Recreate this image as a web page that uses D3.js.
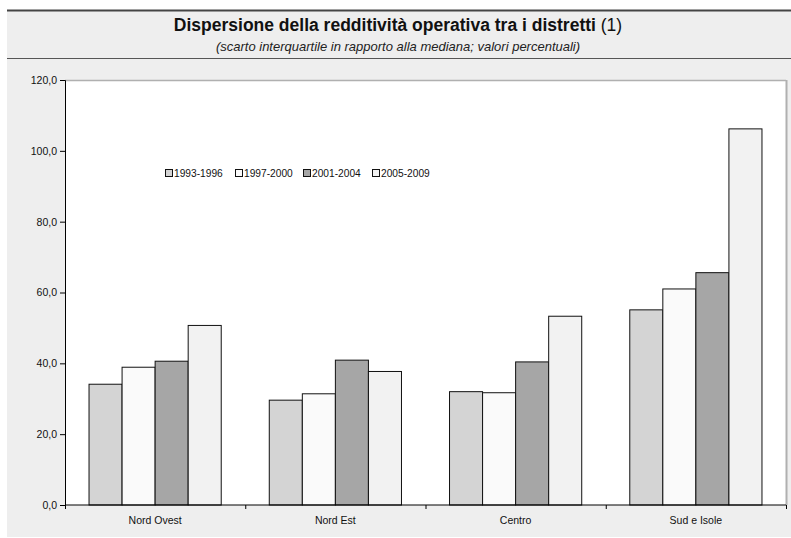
<!DOCTYPE html>
<html><head><meta charset="utf-8">
<script src="https://cdn.jsdelivr.net/npm/d3@7"></script>
<style>body{margin:0;background:#fff}svg{display:block}text{font-family:Arial,"Liberation Sans",sans-serif}</style>
</head><body>
<script>
const categories = ["Nord Ovest", "Nord Est", "Centro", "Sud e Isole"];
const seriesNames = ["1993-1996", "1997-2000", "2001-2004", "2005-2009"];
const s1993 = [34.1, 29.6, 32.0, 55.1];
const s1997 = [38.9, 31.4, 31.7, 61.0];
const s2001 = [40.6, 40.9, 40.4, 65.6];
const s2005 = [50.7, 37.7, 53.3, 106.2];
const seriesColors = ["#d4d4d4", "#fafafa", "#a6a6a6", "#f2f2f2"];
const yTicks = [0, 20, 40, 60, 80, 100, 120];

const series = [s1993, s1997, s2001, s2005];
const W = 791, H = 538;
const svg = d3.select("body").append("svg").attr("width", W).attr("height", H);

// outer background
svg.append("rect").attr("x", 7).attr("y", 10).attr("width", W - 7).attr("height", 527).attr("fill", "#eeeeee");
svg.append("line").attr("x1", 7).attr("x2", W).attr("y1", 10.5).attr("y2", 10.5).attr("stroke", "#444").attr("stroke-width", 2);
svg.append("line").attr("x1", 7).attr("x2", W).attr("y1", 58.5).attr("y2", 58.5).attr("stroke", "#555").attr("stroke-width", 1.2);

// title
const t = svg.append("text").attr("x", 398).attr("y", 31).attr("text-anchor", "middle").attr("font-size", 17.5).attr("fill", "#111");
t.append("tspan").attr("font-weight", "bold").text("Dispersione della redditività operativa tra i distretti");
t.append("tspan").text(" (1)");
svg.append("text").attr("x", 398).attr("y", 51).attr("text-anchor", "middle").attr("font-size", 13).attr("font-style", "italic").attr("fill", "#222")
  .text("(scarto interquartile in rapporto alla mediana; valori percentuali)");

const m = {left: 65, right: 786, top: 80, bottom: 505};
const x0 = d3.scaleBand().domain(categories).range([m.left, m.right]).paddingInner(0).paddingOuter(0);
const x1 = d3.scaleBand().domain(seriesNames).range([0, x0.bandwidth()]).paddingOuter(0.727).paddingInner(0);
const y = d3.scaleLinear().domain([0, 120]).range([m.bottom, m.top]);

// plot area
svg.append("rect").attr("x", m.left).attr("y", m.top).attr("width", m.right - m.left).attr("height", m.bottom - m.top).attr("fill", "#fff");
svg.append("line").attr("x1", m.left).attr("x2", m.right).attr("y1", m.top + 0.5).attr("y2", m.top + 0.5).attr("stroke", "#b0b0b0").attr("stroke-width", 1.5);
svg.append("line").attr("x1", m.right + 0.5).attr("x2", m.right + 0.5).attr("y1", m.top).attr("y2", m.bottom).attr("stroke", "#b0b0b0").attr("stroke-width", 2);

// bars
const g = svg.append("g");
categories.forEach((c, i) => {
  series.forEach((s, j) => {
    g.append("rect")
      .attr("x", x0(c) + x1(seriesNames[j]))
      .attr("y", y(s[i]))
      .attr("width", x1.bandwidth())
      .attr("height", y(0) - y(s[i]))
      .attr("fill", seriesColors[j])
      .attr("stroke", "#111").attr("stroke-width", 1);
  });
});

// y axis
const yAxis = d3.axisLeft(y).tickValues(yTicks).tickSize(5).tickFormat(d => d3.format(".1f")(d).replace(".", ","));
const ya = svg.append("g").attr("transform", `translate(${m.left},0)`).call(yAxis);
ya.select(".domain").attr("stroke", "#000");
ya.selectAll("line").attr("stroke", "#000");
ya.selectAll("text").attr("font-size", 10.5).attr("fill", "#111").attr("font-family", "Arial, 'Liberation Sans', sans-serif").attr("x", -8);

// x axis
const xa = svg.append("g").attr("transform", `translate(0,${m.bottom})`);
xa.append("line").attr("x1", m.left).attr("x2", m.right).attr("stroke", "#000");
const bounds = categories.map(c => x0(c)).concat([m.right]);
xa.selectAll(".tk").data(bounds).enter().append("line")
  .attr("x1", d => d + 0.5).attr("x2", d => d + 0.5).attr("y1", 0).attr("y2", 4).attr("stroke", "#000");
xa.selectAll(".lb").data(categories).enter().append("text")
  .attr("x", d => x0(d) + x0.bandwidth() / 2).attr("y", 19).attr("text-anchor", "middle")
  .attr("font-size", 10.5).attr("fill", "#111").text(d => d);

// legend
const legX = [165, 235, 303, 372];
const lg = svg.append("g");
seriesNames.forEach((n, j) => {
  lg.append("rect").attr("x", legX[j] + 0.5).attr("y", 169.5).attr("width", 7).attr("height", 7)
    .attr("fill", seriesColors[j]).attr("stroke", "#111").attr("stroke-width", 1);
  lg.append("text").attr("x", legX[j] + 9).attr("y", 177).attr("font-size", 10.2).attr("fill", "#111").text(n);
});
</script>
</body></html>
